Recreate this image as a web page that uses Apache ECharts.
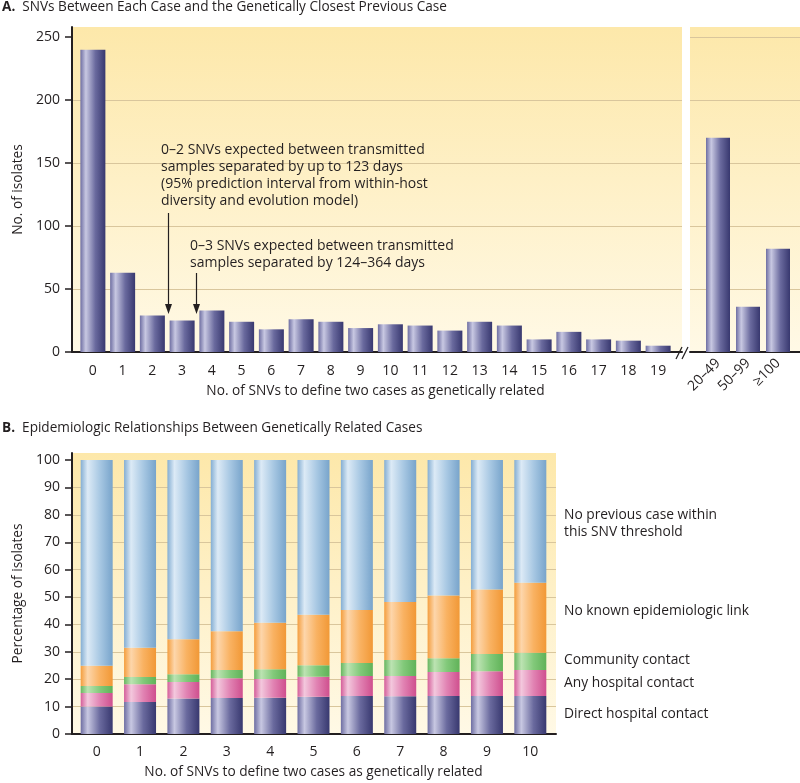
<!DOCTYPE html>
<html>
<head>
<meta charset="utf-8">
<script src="https://cdn.jsdelivr.net/npm/echarts@6/dist/echarts.min.js"></script>
<style>
  html, body { margin: 0; padding: 0; background: #fff; }
  #main { width: 800px; height: 783px; }
</style>
</head>
<body>
<div id="main"></div>
<script>
// panel A: SNVs to closest previous case
var snvLabels = ['0', '1', '2', '3', '4', '5', '6', '7', '8', '9', '10',
    '11', '12', '13', '14', '15', '16', '17', '18', '19'];
var snvCounts = [240, 63, 29, 25, 33, 24, 18, 26, 24, 19, 22, 21, 17, 24, 21, 10, 16, 10, 9, 5];
var wideLabels = ['20–49', '50–99', '≥100'];
var wideCounts = [170, 36, 82];
var countTicks = [0, 50, 100, 150, 200, 250];

// panel B: epidemiologic relationships (% of isolates, stacked)
var thresholdLabels = ['0', '1', '2', '3', '4', '5', '6', '7', '8', '9', '10'];
var directHospital = [10, 11.7, 13, 13.1, 13.2, 13.6, 13.9, 13.8, 13.9, 13.9, 13.9];
var anyHospital = [5, 6.5, 6, 7.3, 6.9, 7.3, 7.3, 7.4, 8.7, 9, 9.5];
var community = [2.5, 2.6, 2.8, 3.0, 3.5, 4.2, 4.7, 5.8, 5.1, 6.3, 6.3];
var noLink = [7.4, 10.7, 12.8, 14.1, 17.0, 18.4, 19.4, 21.2, 22.9, 23.6, 25.5];
var noPrevious = [75.1, 68.5, 65.4, 62.5, 59.4, 56.5, 54.7, 51.8, 49.4, 47.2, 44.8];
var pctTicks = [0, 10, 20, 30, 40, 50, 60, 70, 80, 90, 100];

var FONT = 'Open Sans';
var INK = '#231f20';
var GRIDLINE = '#d9c69c';

function bgFill() {
    return {
        type: 'linear', x: 0, y: 0, x2: 0, y2: 1,
        colorStops: [{ offset: 0, color: '#fde8aa' }, { offset: 1, color: '#fff9e6' }]
    };
}
function barFill(c0, c1, c2, c3) {
    return {
        type: 'linear', x: 0, y: 0, x2: 1, y2: 0,
        colorStops: [
            { offset: 0, color: c0 }, { offset: 0.22, color: c1 },
            { offset: 0.6, color: c2 }, { offset: 1, color: c3 }
        ]
    };
}
var navy = barFill('#6e6ea2', '#c8c8e2', '#6a6a9e', '#38386f');
var pink = barFill('#d45e9a', '#f3c8dd', '#e183b3', '#cf4f8e');
var green = barFill('#68b660', '#bce3b2', '#82c97a', '#60b258');
var orange = barFill('#f49e3e', '#fdd6ab', '#f9b262', '#f19836');
var blue = barFill('#84aed3', '#dceaf6', '#a8c8e3', '#78a4cb');

// frame grids draw background + gridlines, data grids hold the bars
var grids = [
    { left: 72, width: 610, top: 27, height: 325 },   // 0 frame A left
    { left: 690, width: 110, top: 27, height: 325 },  // 1 frame A right
    { left: 78, width: 595, top: 27, height: 325 },   // 2 data A left
    { left: 703, width: 90, top: 27, height: 325 },   // 3 data A right
    { left: 72, width: 484, top: 453, height: 281 },  // 4 frame B
    { left: 75, width: 477, top: 453, height: 281 }   // 5 data B
];
grids.forEach(function (g, i) {
    g.containLabel = false;
    if (i === 0 || i === 1 || i === 4) {
        g.show = true;
        g.backgroundColor = bgFill();
        g.borderWidth = 0;
        g.z = 0;
    }
});

function frameX(gi, lineShow) {
    return {
        type: 'value', gridIndex: gi, min: 0, max: 1,
        axisLine: { show: lineShow, onZero: false, lineStyle: { color: INK, width: 2 } },
        axisTick: { show: false }, axisLabel: { show: false }, splitLine: { show: false }
    };
}
function hiddenY(gi, max) {
    return { type: 'value', gridIndex: gi, min: 0, max: max, show: false, splitLine: { show: false } };
}
var labelStyle = { color: INK, fontFamily: FONT, fontSize: 14 };
var nameStyle = { color: INK, fontFamily: FONT, fontSize: 13.7 };
var noteFont = '14px "Open Sans"';
var keyFont = '13.8px "Open Sans"';

var option = {
    animation: false,
    textStyle: { fontFamily: FONT },
    title: [
        {
            text: '{b|A.}  SNVs Between Each Case and the Genetically Closest Previous Case',
            left: 2, top: 0, padding: 0,
            textStyle: {
                fontFamily: FONT, fontSize: 13.6, fontWeight: 'normal', color: INK,
                rich: { b: { fontFamily: FONT, fontSize: 13.6, fontWeight: 'bold', color: INK } }
            }
        },
        {
            text: '{b|B.}  Epidemiologic Relationships Between Genetically Related Cases',
            left: 2, top: 421, padding: 0,
            textStyle: {
                fontFamily: FONT, fontSize: 13.6, fontWeight: 'normal', color: INK,
                rich: { b: { fontFamily: FONT, fontSize: 13.6, fontWeight: 'bold', color: INK } }
            }
        }
    ],
    grid: grids,
    xAxis: [
        frameX(0, true),
        frameX(1, true),
        {
            type: 'category', gridIndex: 2, data: snvLabels,
            axisLine: { show: false },
            axisTick: { alignWithLabel: true, length: 5, lineStyle: { color: '#555' } },
            axisLabel: Object.assign({ margin: 12, interval: 0 }, labelStyle),
            name: 'No. of SNVs to define two cases as genetically related',
            nameLocation: 'middle', nameGap: 32, nameTextStyle: nameStyle
        },
        {
            type: 'category', gridIndex: 3, data: wideLabels,
            axisLine: { show: false },
            axisTick: { alignWithLabel: true, length: 5, lineStyle: { color: '#555' } },
            axisLabel: Object.assign({ margin: 9, interval: 0, rotate: 45 }, labelStyle)
        },
        frameX(4, true),
        {
            type: 'category', gridIndex: 5, data: thresholdLabels,
            axisLine: { show: false },
            axisTick: { alignWithLabel: true, length: 5, lineStyle: { color: '#555' } },
            axisLabel: Object.assign({ margin: 11, interval: 0 }, labelStyle),
            name: 'No. of SNVs to define two cases as genetically related',
            nameLocation: 'middle', nameGap: 31, nameTextStyle: nameStyle
        }
    ],
    yAxis: [
        {
            type: 'value', gridIndex: 0, min: 0, max: 258, interval: 50,
            axisLine: { show: true, lineStyle: { color: INK, width: 2 } },
            axisTick: { show: true, length: 7, customValues: countTicks, lineStyle: { color: INK, width: 1.5 } },
            axisLabel: Object.assign({ margin: 12, customValues: countTicks }, labelStyle),
            splitLine: { show: true, showMinLine: false, showMaxLine: false, lineStyle: { color: GRIDLINE, width: 1 } },
            name: 'No. of isolates', nameLocation: 'middle', nameGap: 42, nameTextStyle: nameStyle
        },
        {
            type: 'value', gridIndex: 1, min: 0, max: 258, interval: 50,
            axisLine: { show: false }, axisTick: { show: false }, axisLabel: { show: false },
            splitLine: { show: true, showMinLine: false, showMaxLine: false, lineStyle: { color: GRIDLINE, width: 1 } }
        },
        hiddenY(2, 258),
        hiddenY(3, 258),
        {
            type: 'value', gridIndex: 4, min: 0, max: 102.6, interval: 10,
            axisLine: { show: true, lineStyle: { color: INK, width: 2 } },
            axisTick: { show: true, length: 7, customValues: pctTicks, lineStyle: { color: INK, width: 1.5 } },
            axisLabel: Object.assign({ margin: 12, customValues: pctTicks }, labelStyle),
            splitLine: { show: true, showMinLine: false, showMaxLine: false, lineStyle: { color: GRIDLINE, width: 1 } },
            name: 'Percentage of isolates', nameLocation: 'middle', nameGap: 42, nameTextStyle: nameStyle
        },
        hiddenY(5, 102.6)
    ],
    series: [
        { type: 'bar', xAxisIndex: 2, yAxisIndex: 2, data: snvCounts, barWidth: 25, itemStyle: { color: navy }, z: 3 },
        { type: 'bar', xAxisIndex: 3, yAxisIndex: 3, data: wideCounts, barWidth: 24, itemStyle: { color: navy }, z: 3 },
        { name: 'Direct hospital contact', type: 'bar', stack: 'b', xAxisIndex: 5, yAxisIndex: 5, data: directHospital, barWidth: 32, itemStyle: { color: navy }, z: 3 },
        { name: 'Any hospital contact', type: 'bar', stack: 'b', xAxisIndex: 5, yAxisIndex: 5, data: anyHospital, barWidth: 32, itemStyle: { color: pink }, z: 3 },
        { name: 'Community contact', type: 'bar', stack: 'b', xAxisIndex: 5, yAxisIndex: 5, data: community, barWidth: 32, itemStyle: { color: green }, z: 3 },
        { name: 'No known epidemiologic link', type: 'bar', stack: 'b', xAxisIndex: 5, yAxisIndex: 5, data: noLink, barWidth: 32, itemStyle: { color: orange }, z: 3 },
        { name: 'No previous case within this SNV threshold', type: 'bar', stack: 'b', xAxisIndex: 5, yAxisIndex: 5, data: noPrevious, barWidth: 32, itemStyle: { color: blue }, z: 3 }
    ],
    graphic: [
        // annotations in panel A
        {
            type: 'text', left: 161, top: 142, z: 10,
            style: {
                text: '0–2 SNVs expected between transmitted\nsamples separated by up to 123 days\n(95% prediction interval from within-host\ndiversity and evolution model)',
                font: noteFont, fill: INK, lineHeight: 17
            }
        },
        {
            type: 'text', left: 190, top: 237, z: 10,
            style: {
                text: '0–3 SNVs expected between transmitted\nsamples separated by 124–364 days',
                font: noteFont, fill: INK, lineHeight: 17.5
            }
        },
        { type: 'line', z: 10, shape: { x1: 168.5, y1: 213, x2: 168.5, y2: 306 }, style: { stroke: INK, lineWidth: 1.2 } },
        { type: 'polygon', z: 10, shape: { points: [[165, 304], [172, 304], [168.5, 314]] }, style: { fill: INK } },
        { type: 'line', z: 10, shape: { x1: 196.5, y1: 273, x2: 196.5, y2: 306 }, style: { stroke: INK, lineWidth: 1.2 } },
        { type: 'polygon', z: 10, shape: { points: [[193, 304], [200, 304], [196.5, 314]] }, style: { fill: INK } },
        // axis break marks
        { type: 'line', z: 10, shape: { x1: 676, y1: 359, x2: 682, y2: 347 }, style: { stroke: INK, lineWidth: 1.2 } },
        { type: 'line', z: 10, shape: { x1: 682, y1: 359, x2: 688, y2: 347 }, style: { stroke: INK, lineWidth: 1.2 } },
        // category labels to the right of panel B
        { type: 'text', left: 564, top: 507, style: { text: 'No previous case within\nthis SNV threshold', font: keyFont, fill: INK, lineHeight: 17 } },
        { type: 'text', left: 564, top: 604, style: { text: 'No known epidemiologic link', font: keyFont, fill: INK } },
        { type: 'text', left: 564, top: 653, style: { text: 'Community contact', font: keyFont, fill: INK } },
        { type: 'text', left: 564, top: 676, style: { text: 'Any hospital contact', font: keyFont, fill: INK } },
        { type: 'text', left: 564, top: 707, style: { text: 'Direct hospital contact', font: keyFont, fill: INK } }
    ]
};

var myChart = echarts.init(document.getElementById('main'));
myChart.setOption(option);
</script>
</body>
</html>
